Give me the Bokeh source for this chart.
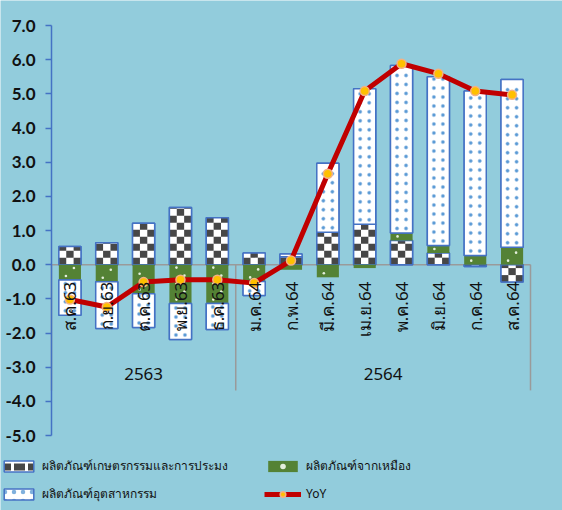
import math
from bokeh.plotting import figure
from bokeh.models import Range1d, Legend, LegendItem, FixedTicker, NumeralTickFormatter
from bokeh.core.properties import value
from bokeh.embed import file_html
from bokeh.resources import INLINE

# ---- data ----
months = ["ส.ค.63", "ก.ย.63", "ต.ค.63", "พ.ย.63", "ธ.ค.63", "ม.ค.64", "ก.พ.64",
          "มี.ค.64", "เม.ย.64", "พ.ค.64", "มิ.ย.64", "ก.ค.64", "ส.ค.64"]
agri = [0.53, 0.64, 1.21, 1.67, 1.37, 0.34, 0.23, 0.95, 1.18, 0.71, 0.34, -0.05, -0.51]
mining = [-0.45, -0.50, -0.85, -1.14, -1.14, -0.49, -0.15, -0.37, -0.10, 0.22, 0.22, 0.27, 0.51]
industrial = [-1.03, -1.37, -0.99, -1.05, -0.76, -0.41, 0.08, 2.02, 3.97, 4.90, 4.94, 4.81, 4.91]
yoy = [-1.02, -1.24, -0.51, -0.44, -0.44, -0.54, 0.12, 2.66, 5.08, 5.88, 5.59, 5.08, 4.97]
groups = ["2563", "2564"]
group_sizes = [5, 8]
y_ticks = [-5, -4, -3, -2, -1, 0, 1, 2, 3, 4, 5, 6, 7]
series_names = ["ผลิตภัณฑ์เกษตรกรรมและการประมง", "ผลิตภัณฑ์จากเหมือง",
                "ผลิตภัณฑ์อุตสาหกรรม", "YoY"]

BG = "#92CCDC"
BLUE = "#4472C4"
GREY = "#9A9A9A"
GREEN = "#548235"
DARK = "#474747"
THAI = "Noto Sans"

# ---- geometry (pixels) ----
FIG_W, FIG_H = 562, 510
AX_L, AX_R = 51, 530          # first / last category edge
AX_T, AX_B = 25, 435          # top / bottom tick
n = len(months)
xs = [i + 0.5 for i in range(n)]
ppx = (AX_R - AX_L) / n
ppy = (AX_B - AX_T) / (y_ticks[-1] - y_ticks[0])
x_range = Range1d(-AX_L / ppx, n + (FIG_W - AX_R) / ppx)
y_range = Range1d(y_ticks[0] - (FIG_H - AX_B) / ppy, y_ticks[-1] + AX_T / ppy)

p = figure(x_range=x_range, y_range=y_range,
           width=FIG_W, height=FIG_H, output_backend="svg", toolbar_location=None,
           x_axis_location=None,
           background_fill_color=BG, border_fill_color=BG, outline_line_color=None,
           min_border_left=0, min_border_right=0, min_border_top=0, min_border_bottom=0)
p.xgrid.visible = False
p.ygrid.visible = False

yax = p.yaxis[0]
yax.fixed_location = 0
yax.bounds = (y_ticks[0], y_ticks[-1])
yax.ticker = FixedTicker(ticks=y_ticks)
yax.formatter = NumeralTickFormatter(format="0.0")
yax.axis_line_color = BLUE
yax.axis_line_width = 1.5
yax.major_tick_line_color = BLUE
yax.major_tick_line_width = 1.5
yax.major_tick_in = 0
yax.major_tick_out = 6
yax.minor_tick_line_color = None
yax.major_label_text_font = "Lato"
yax.major_label_text_font_style = "bold"
yax.major_label_text_font_size = "17px"
yax.major_label_text_color = "#111111"
yax.major_label_standoff = 10

# ---- stacking (positives up, negatives down) ----
pos = [0.0] * n
neg = [0.0] * n
stacks = []
for ser in (agri, mining, industrial):
    bot, top = [], []
    for i, v in enumerate(ser):
        if v >= 0:
            bot.append(pos[i]); top.append(pos[i] + v); pos[i] += v
        else:
            top.append(neg[i]); bot.append(neg[i] + v); neg[i] += v
    stacks.append((bot, top))

# zero line and group separators (under the bars)
bounds = [0]
for g in group_sizes:
    bounds.append(bounds[-1] + g)
p.segment(x0=[bounds[0]], x1=[bounds[-1]], y0=[0], y1=[0], line_color=GREY, line_width=1.5)
p.segment(x0=bounds, x1=bounds, y0=[0] * len(bounds), y1=[-3.68] * len(bounds),
          line_color=GREY, line_width=1.5)

W = 0.6


# --- pattern helpers (checker squares / dots laid inside each stacked bar) ---
def checker_cells(bot, top, cell_px=7, ncols=3):
    L, R, B, T = [], [], [], []
    hc = cell_px / ppy
    for i in range(n):
        b, t = bot[i], top[i]
        k = 0
        while b + k * hc < t - 1e-9:
            rb, rt = b + k * hc, min(b + (k + 1) * hc, t)
            for c in range(ncols):
                if (k + c) % 2 == 0:
                    L.append(xs[i] - W / 2 + c * W / ncols)
                    R.append(xs[i] - W / 2 + (c + 1) * W / ncols)
                    B.append(rb); T.append(rt)
            k += 1
    return L, R, B, T


def dot_grid(bot, top, dx_px, step_px, stagger):
    X, Y = [], []
    for i in range(n):
        b, t = bot[i], top[i]
        k = 0
        y = b + (step_px / 2) / ppy
        while y < t - 2 / ppy:
            offs = [(dx_px if k % 2 else -dx_px)] if stagger else [-dx_px, dx_px]
            for o in offs:
                X.append(xs[i] + o / ppx); Y.append(y)
            k += 1
            y += step_px / ppy
    return X, Y


# agricultural: legend proxy (hatched, hidden underneath), white bar, checker squares, outline
leg_agri = p.vbar(x=xs, bottom=stacks[0][0], top=stacks[0][1], width=W,
                  fill_color="white", line_color=BLUE, line_width=1.5,
                  hatch_pattern='"', hatch_color=DARK, hatch_scale=14, hatch_weight=7)
p.vbar(x=xs, bottom=stacks[0][0], top=stacks[0][1], width=W,
       fill_color="white", line_color=None)
cl, cr, cb, ct = checker_cells(*stacks[0])
p.quad(left=cl, right=cr, bottom=cb, top=ct, fill_color=DARK, line_color=None)
p.vbar(x=xs, bottom=stacks[0][0], top=stacks[0][1], width=W,
       fill_alpha=0, line_color=BLUE, line_width=1.5)

# mining
r_min = p.vbar(x=xs, bottom=stacks[1][0], top=stacks[1][1], width=W,
               fill_color=GREEN, line_color=None)
gx, gy = dot_grid(*stacks[1], dx_px=4, step_px=8, stagger=True)
r_gdots = p.scatter(x=gx, y=gy, size=2.6, fill_color="#E4EFDC", line_color=None)

# industrial: legend proxy (hatched, hidden underneath), white bar, dots
leg_ind = p.vbar(x=xs, bottom=stacks[2][0], top=stacks[2][1], width=W,
                 fill_color="white", line_color=BLUE, line_width=1.5,
                 hatch_pattern=".", hatch_color="#7FB0DD", hatch_scale=9)
p.vbar(x=xs, bottom=stacks[2][0], top=stacks[2][1], width=W,
       fill_color="white", line_color=BLUE, line_width=1.5)
bx, by = dot_grid(*stacks[2], dx_px=4.5, step_px=9, stagger=False)
p.scatter(x=bx, y=by, size=3.5, fill_color="#5B9BD5", line_color="#A8C8EA", line_width=0.6)

r_line = p.line(x=xs, y=yoy, line_color="#C00000", line_width=5, line_join="round")
r_pts = p.scatter(x=xs, y=yoy, size=9, fill_color="#FFC000",
                  line_color="#F4B183", line_width=1.5)

# category labels hanging just below zero
p.text(x=xs, y=[0] * n, text=months, angle=math.pi / 2, text_align="right",
       text_baseline="middle", y_offset=17, text_font=value(THAI),
       text_font_size="17px", text_color="#111111")

# group labels
centers = [bounds[i] + group_sizes[i] / 2 for i in range(len(groups))]
p.text(x=centers, y=[-3.2] * len(groups), text=groups, text_align="center",
       text_baseline="middle", text_font=value(THAI), text_font_size="17px",
       text_color="#111111")

legend = Legend(items=[
    LegendItem(label=series_names[0], renderers=[leg_agri]),
    LegendItem(label=series_names[2], renderers=[leg_ind]),
    LegendItem(label=series_names[1], renderers=[r_min, r_gdots]),
    LegendItem(label=series_names[3], renderers=[r_line, r_pts]),
], location=(0, 7), ncols=2)
legend.background_fill_alpha = 0
legend.border_line_alpha = 0
legend.padding = 0
legend.margin = 0
legend.spacing = 9
legend.glyph_width = 37
legend.glyph_height = 14
legend.label_height = 14
legend.label_width = 213
legend.label_standoff = 5
legend.label_text_font = THAI
legend.label_text_font_size = "12px"
legend.label_text_color = "#111111"
p.add_layout(legend)

open("out.html", "w").write(file_html(p, INLINE))
